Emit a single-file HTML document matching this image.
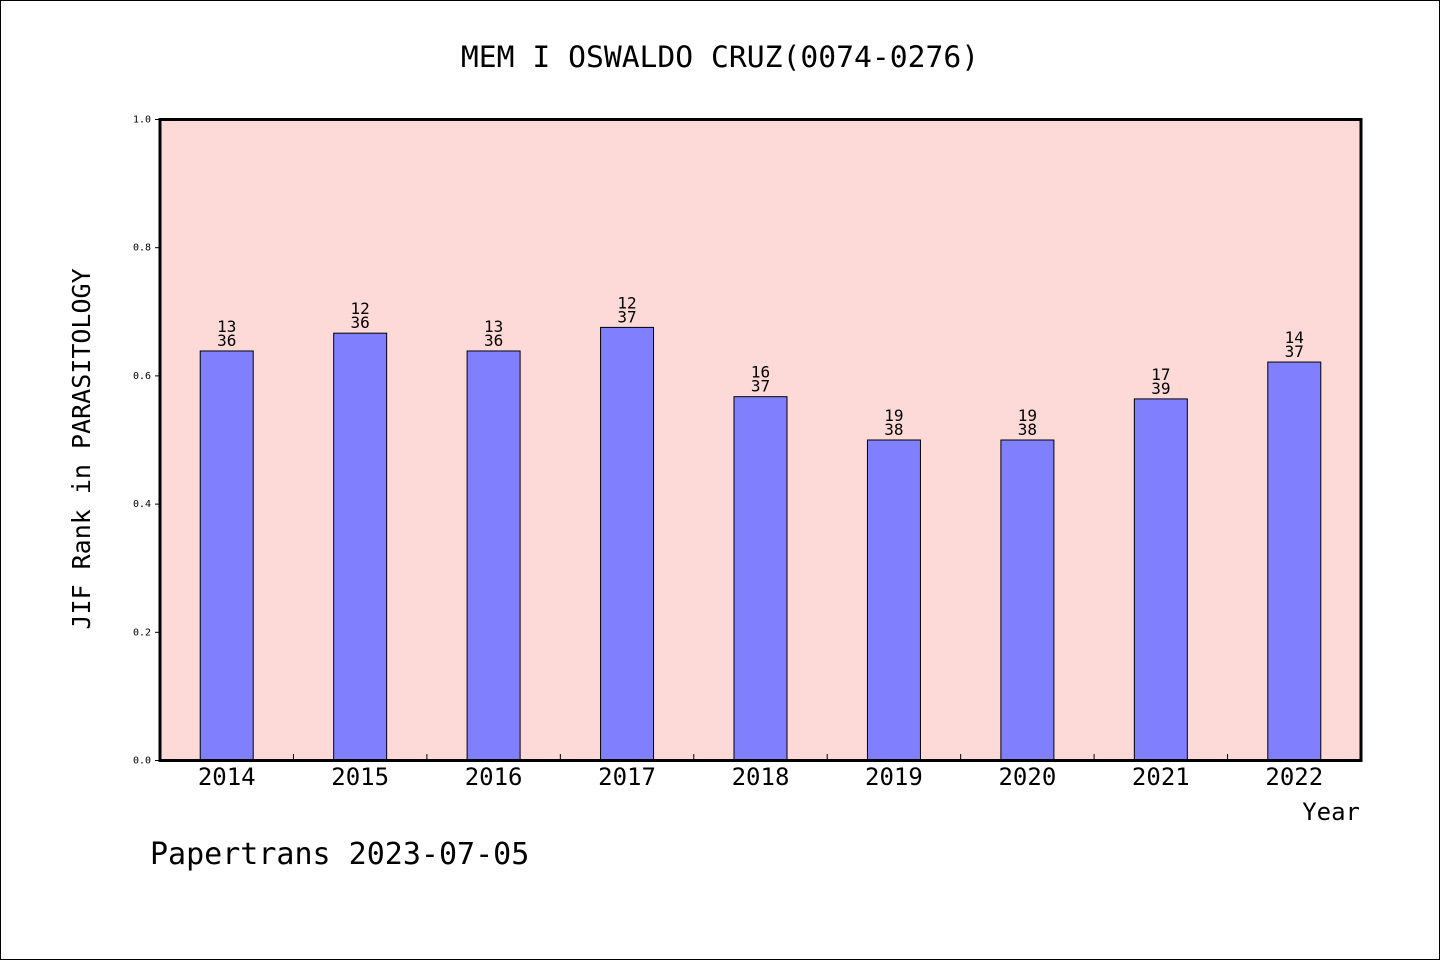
<!DOCTYPE html>
<html><head><meta charset="utf-8"><style>
body{margin:0;background:#fff}
svg text{font-family:"DejaVu Sans Mono","Liberation Mono",monospace}
</style></head><body>
<svg width="1440" height="960" xmlns="http://www.w3.org/2000/svg">
<rect x="0.5" y="0.5" width="1439" height="959" fill="#fff" stroke="#000"/>
<text x="720" y="67" font-size="29.7" text-anchor="middle">MEM I OSWALDO CRUZ(0074-0276)</text>
<rect x="160" y="119" width="1201" height="641" fill="#fddad7"/>
<g id="bars"></g>
<rect x="160" y="119.5" width="1201" height="641" fill="none" stroke="#000" stroke-width="3"/>
<text transform="translate(90,449) rotate(-90)" font-size="25" text-anchor="middle">JIF Rank in PARASITOLOGY</text>
<text x="1360" y="820" font-size="24" text-anchor="end">Year</text>
<text x="150" y="864" font-size="30">Papertrans 2023-07-05</text>
</svg>
<script>
const years=["2014","2015","2016","2017","2018","2019","2020","2021","2022"];
const ranks=[13,12,13,12,16,19,19,17,14];
const totals=[36,36,36,37,37,38,38,39,37];
const yTicks=[0,0.2,0.4,0.6,0.8,1.0];
const NS="http://www.w3.org/2000/svg";
const X0=160,W=1201,Y0=760.5,H=641;
const g=document.getElementById('bars');
const slot=W/years.length;
const yPos=v=>Y0-v*H;
function mk(t,a){const e=document.createElementNS(NS,t);for(const k in a)e.setAttribute(k,a[k]);g.appendChild(e);return e;}
yTicks.forEach(v=>{
  const l=mk('line',{x1:155,x2:160,y1:yPos(v),y2:yPos(v),stroke:'#000'});
  
  
  const t=mk('text',{x:151,y:yPos(v)+3,'font-size':10,'text-anchor':'end'});t.textContent=v.toFixed(1);
  
  
});
years.forEach((y,i)=>{
  const v=1-ranks[i]/totals[i];
  const cx=X0+slot*(i+0.5),bw=53;
  const r=mk('rect',{x:cx-bw/2,y:yPos(v),width:bw,height:Y0-yPos(v),fill:'#8080ff',stroke:'#000','stroke-width':1});
  
  
  const a=mk('text',{x:cx,y:yPos(v)-19,'font-size':16,'text-anchor':'middle'});a.textContent=ranks[i];
  
  
  const b=mk('text',{x:cx,y:yPos(v)-5,'font-size':16,'text-anchor':'middle'});b.textContent=totals[i];
  
  
  const xl=mk('text',{x:cx,y:785,'font-size':24,'text-anchor':'middle'});xl.textContent=y;
  
  
  if(i>0){const tk=mk('line',{x1:X0+slot*i,x2:X0+slot*i,y1:754,y2:760,stroke:'#000'});
  
  }
});
</script>
</body></html>
